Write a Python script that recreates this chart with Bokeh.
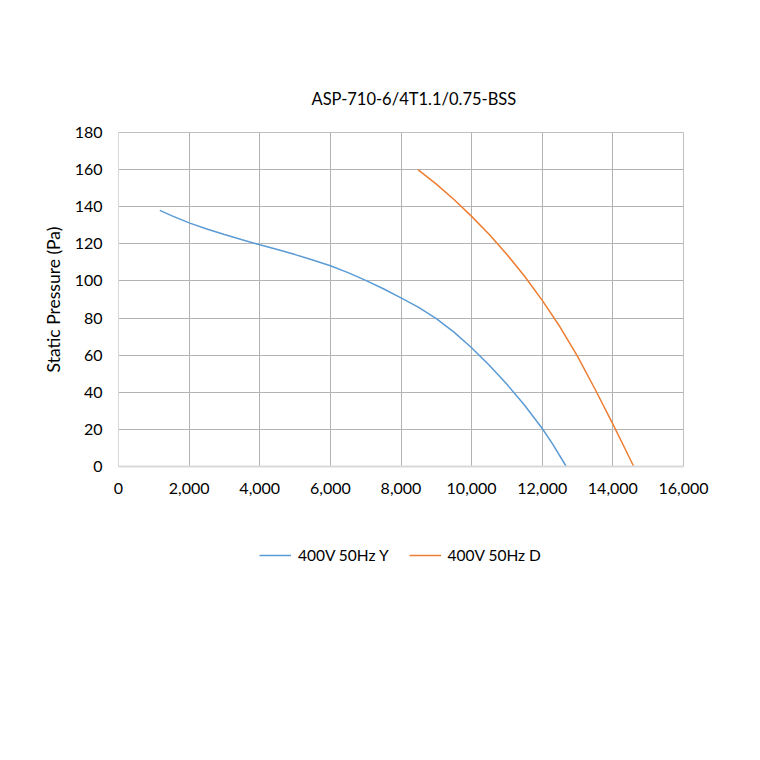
from bokeh.plotting import figure
from bokeh.models import Legend, LegendItem, Range1d, FixedTicker, NumeralTickFormatter
from bokeh.layouts import column
from bokeh.embed import file_html
from bokeh.resources import INLINE

title_text = "ASP-710-6/4T1.1/0.75-BSS"
y_label = "Static Pressure (Pa)"
series_names = ["400V 50Hz Y", "400V 50Hz D"]

flow_y = [1170, 1500, 2000, 2500, 3000, 3500, 4000, 4500, 5000, 5500, 6000, 6500, 7000,
          7500, 8000, 8500, 9000, 9500, 10000, 10500, 11000, 11500, 12000, 12300, 12680]
pres_y = [138, 135.2, 131.3, 128.0, 125.0, 122.2, 119.5, 116.9, 114.2, 111.3, 108.2, 104.5, 100.3,
          95.8, 90.9, 85.8, 79.7, 72.4, 64.0, 54.6, 44.3, 33.0, 20.5, 11.9, 0]

flow_d = [8480, 9000, 9500, 10000, 10500, 11000, 11500, 12000, 12500, 13000, 13500,
          14000, 14300, 14590]
pres_d = [160, 152.2, 143.9, 134.8, 125.0, 114.3, 102.5, 89.5, 75.3, 59.3, 41.5,
          22.8, 11.3, 0]

x_ticks = [0, 2000, 4000, 6000, 8000, 10000, 12000, 14000, 16000]
y_ticks = [0, 20, 40, 60, 80, 100, 120, 140, 160, 180]

FONT = "Lato"
BLUE = "#5B9BD5"
ORANGE = "#ED7D31"

p = figure(width=744, height=530, output_backend="svg", toolbar_location=None,
           x_range=Range1d(0, 16000), y_range=Range1d(0, 180),
           min_border_left=118, min_border_right=61, min_border_top=132, min_border_bottom=64,
           title=title_text)

p.title.align = "left"
p.title.offset = 193
p.title.text_font = FONT
p.title.text_font_size = "16.5px"
p.title.text_font_style = "normal"
p.title.text_color = "#000000"
p.title.standoff = 48

p.outline_line_color = "#BFBFBF"
p.background_fill_color = "white"
p.border_fill_color = "white"

p.xaxis.ticker = FixedTicker(ticks=x_ticks)
p.yaxis.ticker = FixedTicker(ticks=y_ticks)
p.xaxis.formatter = NumeralTickFormatter(format="0,0")
for ax in (p.xaxis, p.yaxis):
    ax.major_tick_line_color = None
    ax.minor_tick_line_color = None
    ax.axis_line_color = "#D9D9D9"
    ax.major_label_text_font = FONT
    ax.major_label_text_font_size = "16px"
    ax.major_label_text_color = "#000000"
p.xaxis.axis_line_width = 2
p.xaxis.major_label_standoff = 10
p.yaxis.major_label_standoff = 10
p.yaxis.axis_label = y_label
p.yaxis.axis_label_text_font = FONT
p.yaxis.axis_label_text_font_size = "17.5px"
p.yaxis.axis_label_text_font_style = "normal"
p.yaxis.axis_label_text_color = "#000000"
p.yaxis.axis_label_standoff = 8

p.xgrid.grid_line_color = "#B3B3B3"
p.ygrid.grid_line_color = "#B3B3B3"
p.xgrid.ticker = FixedTicker(ticks=x_ticks)
p.ygrid.ticker = FixedTicker(ticks=y_ticks)

p.line(flow_y, pres_y, line_color=BLUE, line_width=1.5)
p.line(flow_d, pres_d, line_color=ORANGE, line_width=1.5)

# legend strip below the chart (its own lines use the same data, kept out of view)
lg = figure(width=744, height=60, output_backend="svg", toolbar_location=None,
            x_axis_type=None, y_axis_type=None, min_border=0,
            x_range=Range1d(-2, -1), y_range=Range1d(-2, -1))
lg.outline_line_color = None
lg.xgrid.visible = False
lg.ygrid.visible = False
lr1 = lg.line(flow_y, pres_y, line_color=BLUE, line_width=1.5)
lr2 = lg.line(flow_d, pres_d, line_color=ORANGE, line_width=1.5)
legend = Legend(items=[LegendItem(label=series_names[0], renderers=[lr1]),
                       LegendItem(label=series_names[1], renderers=[lr2])],
                orientation="horizontal", location=(141, 25),
                glyph_width=32, glyph_height=20, label_standoff=7, spacing=20,
                padding=0, margin=0, border_line_color=None, background_fill_alpha=0,
                label_text_font=FONT, label_text_font_size="15.5px", label_text_color="#000000")
lg.add_layout(legend, "center")

layout = column(p, lg, spacing=0)
open("out.html", "w").write(file_html(layout, INLINE))
